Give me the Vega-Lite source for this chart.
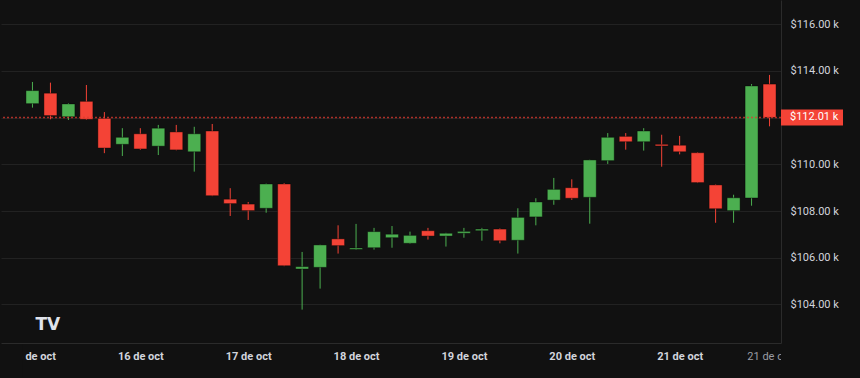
{
  "$schema": "https://vega.github.io/schema/vega-lite/v6.json",
  "autosize": {"type": "fit", "contains": "padding"},
  "width": 860,
  "height": 378,
  "padding": 0,
  "background": "#111111",
  "config": {
    "view": {"stroke": null},
    "scale": {"continuousPadding": 0},
    "axis": {"title": null, "labelFont": "Roboto", "labelFontSize": 11, "ticks": false, "tickSize": 0, "domainColor": "#2b2b2b", "gridColor": "#222222", "labelColor": "#d1d4dc"}
  },
  "data": {"values": [
    {"t": "2025-10-15T00:00:00Z", "o": 112600, "h": 113530, "l": 112430, "c": 113160},
    {"t": "2025-10-15T04:00:00Z", "o": 113050, "h": 113500, "l": 111930, "c": 112090},
    {"t": "2025-10-15T08:00:00Z", "o": 112040, "h": 112620, "l": 111900, "c": 112590},
    {"t": "2025-10-15T12:00:00Z", "o": 112700, "h": 113400, "l": 111900, "c": 111930},
    {"t": "2025-10-15T16:00:00Z", "o": 111970, "h": 112240, "l": 110480, "c": 110700},
    {"t": "2025-10-15T20:00:00Z", "o": 110860, "h": 111550, "l": 110360, "c": 111160},
    {"t": "2025-10-16T00:00:00Z", "o": 111310, "h": 111550, "l": 110620, "c": 110660},
    {"t": "2025-10-16T04:00:00Z", "o": 110780, "h": 111690, "l": 110400, "c": 111550},
    {"t": "2025-10-16T08:00:00Z", "o": 111390, "h": 111690, "l": 110600, "c": 110620},
    {"t": "2025-10-16T12:00:00Z", "o": 110540, "h": 111610, "l": 109690, "c": 111310},
    {"t": "2025-10-16T16:00:00Z", "o": 111430, "h": 111730, "l": 108640, "c": 108660},
    {"t": "2025-10-16T20:00:00Z", "o": 108510, "h": 108980, "l": 107790, "c": 108320},
    {"t": "2025-10-17T00:00:00Z", "o": 108300, "h": 108390, "l": 107620, "c": 108020},
    {"t": "2025-10-17T04:00:00Z", "o": 108120, "h": 109180, "l": 107930, "c": 109160},
    {"t": "2025-10-17T08:00:00Z", "o": 109160, "h": 109200, "l": 105640, "c": 105660},
    {"t": "2025-10-17T12:00:00Z", "o": 105520, "h": 106250, "l": 103780, "c": 105620},
    {"t": "2025-10-17T16:00:00Z", "o": 105590, "h": 106560, "l": 104680, "c": 106550},
    {"t": "2025-10-17T20:00:00Z", "o": 106810, "h": 107390, "l": 106180, "c": 106520},
    {"t": "2025-10-18T00:00:00Z", "o": 106360, "h": 107450, "l": 106340, "c": 106420},
    {"t": "2025-10-18T04:00:00Z", "o": 106430, "h": 107280, "l": 106350, "c": 107120},
    {"t": "2025-10-18T08:00:00Z", "o": 106860, "h": 107360, "l": 106430, "c": 107010},
    {"t": "2025-10-18T12:00:00Z", "o": 106620, "h": 107120, "l": 106600, "c": 106960},
    {"t": "2025-10-18T16:00:00Z", "o": 107160, "h": 107280, "l": 106780, "c": 106930},
    {"t": "2025-10-18T20:00:00Z", "o": 106930, "h": 107070, "l": 106480, "c": 107050},
    {"t": "2025-10-19T00:00:00Z", "o": 107050, "h": 107280, "l": 106860, "c": 107130},
    {"t": "2025-10-19T04:00:00Z", "o": 107160, "h": 107280, "l": 106730, "c": 107230},
    {"t": "2025-10-19T08:00:00Z", "o": 107230, "h": 107260, "l": 106620, "c": 106730},
    {"t": "2025-10-19T12:00:00Z", "o": 106750, "h": 108120, "l": 106180, "c": 107730},
    {"t": "2025-10-19T16:00:00Z", "o": 107750, "h": 108550, "l": 107390, "c": 108390},
    {"t": "2025-10-19T20:00:00Z", "o": 108470, "h": 109420, "l": 108270, "c": 108930},
    {"t": "2025-10-20T00:00:00Z", "o": 109000, "h": 109360, "l": 108480, "c": 108550},
    {"t": "2025-10-20T04:00:00Z", "o": 108590, "h": 110200, "l": 107460, "c": 110190},
    {"t": "2025-10-20T08:00:00Z", "o": 110160, "h": 111340, "l": 110020, "c": 111160},
    {"t": "2025-10-20T12:00:00Z", "o": 111200, "h": 111340, "l": 110630, "c": 110970},
    {"t": "2025-10-20T16:00:00Z", "o": 110970, "h": 111550, "l": 110590, "c": 111430},
    {"t": "2025-10-20T20:00:00Z", "o": 110860, "h": 111270, "l": 109900, "c": 110790},
    {"t": "2025-10-21T00:00:00Z", "o": 110820, "h": 111220, "l": 110430, "c": 110540},
    {"t": "2025-10-21T04:00:00Z", "o": 110500, "h": 110520, "l": 109200, "c": 109220},
    {"t": "2025-10-21T08:00:00Z", "o": 109120, "h": 109140, "l": 107500, "c": 108100},
    {"t": "2025-10-21T12:00:00Z", "o": 108020, "h": 108700, "l": 107500, "c": 108570},
    {"t": "2025-10-21T16:00:00Z", "o": 108560, "h": 113440, "l": 108230, "c": 113360},
    {"t": "2025-10-21T20:00:00Z", "o": 113440, "h": 113830, "l": 111630, "c": 112010}
  ]},
  "layer": [
    {
      "mark": {"type": "rule", "strokeWidth": 1},
      "encoding": {
        "x": {"field": "t", "type": "temporal",
          "scale": {"type": "utc", "padding": 0, "domain": [{"year": 2025, "month": 10, "date": 14, "hours": 17, "utc": true}, {"year": 2025, "month": 10, "date": 21, "hours": 22, "minutes": 33, "utc": true}]},
          "axis": {"orient": "bottom", "grid": false, "domain": true, "labelPadding": 7, "labelFlush": false, "labelOverlap": false, "labelBound": false, "minExtent": 35, "maxExtent": 35, "labelFontWeight": {"condition": {"test": "utchours(datum.value) == 20", "value": "normal"}, "value": "bold"}, "labelColor": {"condition": {"test": "utchours(datum.value) == 20", "value": "#9a9ca3"}, "value": "#d1d4dc"},
            "values": [
              {"year": 2025, "month": 10, "date": 15, "utc": true},
              {"year": 2025, "month": 10, "date": 16, "utc": true},
              {"year": 2025, "month": 10, "date": 17, "utc": true},
              {"year": 2025, "month": 10, "date": 18, "utc": true},
              {"year": 2025, "month": 10, "date": 19, "utc": true},
              {"year": 2025, "month": 10, "date": 20, "utc": true},
              {"year": 2025, "month": 10, "date": 21, "utc": true},
              {"year": 2025, "month": 10, "date": 21, "hours": 20, "utc": true}
            ],
            "labelExpr": "utcdate(datum.value) + ' de oct'"}},
        "y": {"field": "l", "type": "quantitative",
          "scale": {"domain": [102350, 117040], "nice": false, "zero": false, "padding": 0},
          "axis": {"orient": "right", "grid": true, "domain": true, "labelPadding": 9, "minExtent": 79, "maxExtent": 79, "values": [104000, 106000, 108000, 110000, 112000, 114000, 116000], "labelExpr": "'$' + format(datum.value / 1000, '.2f') + ' k'"}},
        "y2": {"field": "h"},
        "color": {"condition": {"test": "datum.c >= datum.o", "value": "#4caf50"}, "value": "#f44336"}
      }
    },
    {
      "mark": {"type": "bar", "width": 13, "strokeWidth": 1, "stroke": "#000000", "strokeOpacity": 0.4},
      "encoding": {
        "x": {"field": "t", "type": "temporal"},
        "y": {"field": "o", "type": "quantitative"},
        "y2": {"field": "c"},
        "color": {"condition": {"test": "datum.c >= datum.o", "value": "#4caf50"}, "value": "#f44336"}
      }
    },
    {
      "data": {"values": [{"price": 112010}]},
      "mark": {"type": "rule", "stroke": "#e0392f", "strokeWidth": 1.5, "strokeDash": [2, 2], "opacity": 0.75},
      "encoding": {"y": {"field": "price", "type": "quantitative"}}
    },
    {
      "data": {"values": [{"price": 112010, "label": "$112.01 k"}]},
      "mark": {"type": "rect", "fill": "#f44336", "yOffset": -8, "y2Offset": 8, "x2Offset": 62},
      "encoding": {
        "x": {"datum": {"year": 2025, "month": 10, "date": 21, "hours": 22, "minutes": 33, "utc": true}, "type": "temporal"},
        "x2": {"datum": {"year": 2025, "month": 10, "date": 21, "hours": 22, "minutes": 33, "utc": true}},
        "y": {"field": "price", "type": "quantitative"},
        "y2": {"field": "price"}
      }
    },
    {
      "data": {"values": [{"price": 112010, "label": "$112.01 k"}]},
      "mark": {"type": "text", "align": "left", "baseline": "middle", "dx": 9, "font": "Roboto", "fontSize": 11, "fill": "#ffffff"},
      "encoding": {
        "x": {"datum": {"year": 2025, "month": 10, "date": 21, "hours": 22, "minutes": 33, "utc": true}, "type": "temporal"},
        "y": {"field": "price", "type": "quantitative"},
        "text": {"field": "label"}
      }
    },
    {
      "data": {"values": [{"price": 102350}]},
      "mark": {"type": "rect", "fill": "#111111", "yOffset": 1, "y2Offset": 34, "x2Offset": 30},
      "encoding": {
        "x": {"datum": {"year": 2025, "month": 10, "date": 21, "hours": 22, "minutes": 33, "utc": true}, "type": "temporal"},
        "x2": {"datum": {"year": 2025, "month": 10, "date": 21, "hours": 22, "minutes": 33, "utc": true}},
        "y": {"field": "price", "type": "quantitative"},
        "y2": {"field": "price"}
      }
    },
    {
      "data": {"values": [{"price": 102350}]},
      "mark": {"type": "rect", "fill": "#111111", "yOffset": 1, "y2Offset": 34},
      "encoding": {
        "x": {"datum": {"year": 2025, "month": 10, "date": 14, "hours": 17, "utc": true}, "type": "temporal"},
        "x2": {"datum": {"year": 2025, "month": 10, "date": 14, "hours": 21, "minutes": 53, "utc": true}},
        "y": {"field": "price", "type": "quantitative"},
        "y2": {"field": "price"}
      }
    },
    {
      "data": {"values": [{"price": 103120, "logo": "TV"}]},
      "mark": {"type": "text", "align": "center", "baseline": "middle", "font": "DejaVu Sans", "fontWeight": "bold", "fontSize": 17, "fill": "#e0e3eb"},
      "encoding": {
        "x": {"datum": {"year": 2025, "month": 10, "date": 15, "hours": 3, "minutes": 26, "utc": true}, "type": "temporal"},
        "y": {"field": "price", "type": "quantitative"},
        "text": {"field": "logo"}
      }
    }
  ]
}
